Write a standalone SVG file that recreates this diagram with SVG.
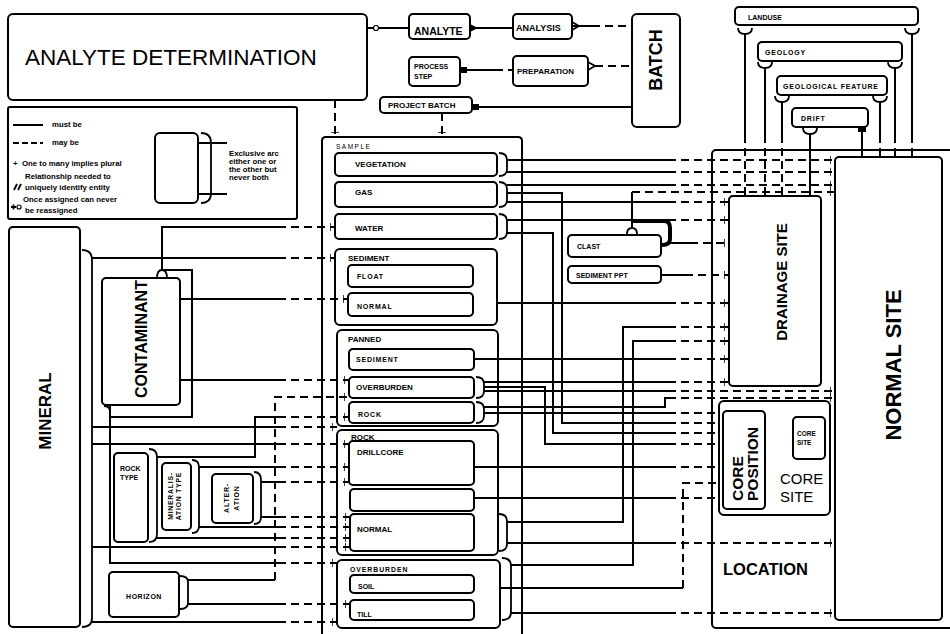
<svg xmlns="http://www.w3.org/2000/svg" width="950" height="634" viewBox="0 0 950 634">
<defs>
<style>
.bx{fill:#fff;stroke:#000;stroke-width:2}
.ct{fill:none;stroke:#000;stroke-width:2}
.cw{fill:#fff;stroke:#000;stroke-width:2}
.s{fill:none;stroke:#000;stroke-width:2}
.d{fill:none;stroke:#000;stroke-width:2;stroke-dasharray:8 5}
.a{fill:none;stroke:#000;stroke-width:1.8}
.th{fill:none;stroke:#000;stroke-width:4}
text{font-family:"Liberation Sans",Arial,Helvetica,sans-serif;fill:#000}
.l{font-size:8px;font-weight:bold}
.sm{font-size:7px;font-weight:bold}
.lg{font-size:7.8px;font-weight:bold}
</style>
<marker id="tk" markerWidth="8" markerHeight="10" refX="5" refY="5" orient="auto" markerUnits="userSpaceOnUse"><path d="M0,1V9" stroke="#000" stroke-width="1.5"/></marker>
</defs>
<rect width="950" height="634" fill="#fff"/>

<!-- containers -->
<g id="sample">
<path class="ct" d="M322,634 V141 Q322,137 326,137 H518 Q522,137 522,141 V634"/>
<text x="336" y="149" style="font-size:6.5px;letter-spacing:1.5px">SAMPLE</text>
</g>
<g id="location">
<rect class="ct" x="712" y="150" width="250" height="478" rx="4"/>
<text x="723" y="575" style="font-size:16.5px;font-weight:bold">LOCATION</text>
</g>
<g id="sediment-group">
<rect class="cw" x="335" y="249" width="162" height="76" rx="5"/>
<text class="l" x="348" y="261">SEDIMENT</text>
</g>
<g id="panned-group">
<rect class="cw" x="337" y="330" width="161" height="96" rx="5"/>
<text class="l" x="348" y="342">PANNED</text>
</g>
<g id="rock-group">
<rect class="cw" x="337" y="430" width="161" height="125" rx="5"/>
<text class="l" x="351" y="440">ROCK</text>
</g>
<g id="overburden-group">
<rect class="cw" x="337" y="560" width="163" height="68" rx="5"/>
<text x="350" y="572" style="font-size:6.8px;font-weight:bold;letter-spacing:1px">OVERBURDEN</text>
</g>

<!-- connectors -->
<g id="connectors">
<!-- top -->
<path class="s" d="M367,28 H409"/>
<circle cx="376" cy="28" r="2.5" fill="#fff" stroke="#000" stroke-width="1.2"/>
<path class="s" d="M470,28 H513"/>
<path d="M470,24 L478,28 L470,32 Z" fill="#000"/>
<path class="s" d="M572,26 H592"/>
<path class="a" d="M572,22 L579,26 L572,30"/>
<path class="d" d="M592,26 H632"/>
<path class="s" d="M460,70 H495"/>
<rect x="461" y="67" width="6" height="6" fill="#000"/>
<path class="d" d="M495,70 H513"/>
<path class="a" d="M588,62 L595,66 L588,70"/>
<path class="d" d="M595,66 H632"/>
<path class="s" d="M472,107 H632"/>
<rect x="473" y="104" width="6" height="6" fill="#000"/>
<path class="d" d="M442,113 V137" marker-end="url(#tk)"/>
<path class="d" d="M335,100 V137" marker-end="url(#tk)"/>

<!-- landuse hierarchy -->
<path class="a" d="M738,28 Q738,34 745,34 Q752,34 752,28"/>
<path class="a" d="M905,28 Q905,34 912,34 Q919,34 919,28"/>
<path class="a" d="M758,62 Q758,68 765,68 Q772,68 772,62"/>
<path class="a" d="M888,62 Q888,68 895,68 Q902,68 902,62"/>
<path class="a" d="M775,96 Q775,102 782,102 Q789,102 789,96"/>
<path class="a" d="M873,96 Q873,102 880,102 Q887,102 887,96"/>
<path class="a" d="M803,128 Q803,134 810,134 Q817,134 817,128"/>
<path class="s" d="M745,34 V135"/><path class="d" d="M745,135 V196"/>
<path class="s" d="M912,34 V135"/><path class="d" d="M912,135 V157"/>
<path class="s" d="M765,68 V135"/><path class="d" d="M765,135 V196"/>
<path class="s" d="M895,68 V135"/><path class="d" d="M895,135 V157"/>
<path class="s" d="M782,102 V135"/><path class="d" d="M782,135 V196"/>
<path class="s" d="M880,102 V135"/><path class="d" d="M880,135 V157"/>
<path class="s" d="M810,134 V196"/>
<path class="s" d="M862,127 V157"/>
<rect x="858" y="127" width="8" height="5" fill="#000"/>

<!-- sample braces -->
<path class="a" d="M499,153 Q507,153 507,160 V169 Q507,176 499,176"/>
<path class="a" d="M499,182 Q507,182 507,189 V200 Q507,207 499,207"/>
<path class="a" d="M499,214 Q507,214 507,221 V232 Q507,239 499,239"/>
<path class="a" d="M476,377 Q484,377 484,384 V391 Q484,398 476,398"/>
<path class="a" d="M476,402 Q484,402 484,409 V416 Q484,423 476,423"/>
<path class="a" d="M499,514 Q507,514 507,521 V544 Q507,551 499,551"/>
<path class="a" d="M502,558 Q511,558 511,566 V612 Q511,620 502,620"/>

<!-- sample to the right -->
<path class="s" d="M507,160 H668"/><path class="d" d="M668,160 H835" marker-end="url(#tk)"/>
<path class="s" d="M507,172 H668"/><path class="d" d="M668,172 H835" marker-end="url(#tk)"/>
<path class="s" d="M507,185 H668"/><path class="d" d="M668,185 H835" marker-end="url(#tk)"/>
<path class="s" d="M507,193 H562 V423 H668"/><path class="d" d="M668,423 H723" marker-end="url(#tk)"/>
<path class="s" d="M507,202 H668"/><path class="d" d="M668,202 H729" marker-end="url(#tk)"/>
<path class="s" d="M507,220 H668"/><path class="d" d="M668,220 H729" marker-end="url(#tk)"/>
<path class="s" d="M507,233 H553 V433 H668"/><path class="d" d="M668,433 H723" marker-end="url(#tk)"/>
<path class="th" d="M632,221 H664 Q670,221 670,228 V239 Q670,245 662,245"/>
<path class="a" d="M627,234 Q627,228 632,228 Q637,228 637,234"/>
<path class="s" d="M632,228 V192"/><path class="d" d="M632,192 H835" marker-end="url(#tk)"/>
<path class="s" d="M670,243 H690"/><path class="d" d="M690,243 H729" marker-end="url(#tk)"/>
<path class="s" d="M661,275 H685"/><path class="d" d="M685,275 H729" marker-end="url(#tk)"/>
<path class="s" d="M497,303 H668"/><path class="d" d="M668,303 H729" marker-end="url(#tk)"/>
<path class="s" d="M507,522 H623 V327 H668"/><path class="d" d="M668,327 H729" marker-end="url(#tk)"/>
<path class="s" d="M511,565 H633 V341 H668"/><path class="d" d="M668,341 H729" marker-end="url(#tk)"/>
<path class="s" d="M474,359 H668"/><path class="d" d="M668,359 H729" marker-end="url(#tk)"/>
<path class="s" d="M484,382 H668"/><path class="d" d="M668,382 H729" marker-end="url(#tk)"/>
<path class="s" d="M484,387 H545 V444 H668"/><path class="d" d="M668,444 H723" marker-end="url(#tk)"/>
<path class="s" d="M484,391 H668"/><path class="d" d="M668,391 H835" marker-end="url(#tk)"/>
<path class="s" d="M484,407 H665 V398 H668"/><path class="d" d="M668,398 H835" marker-end="url(#tk)"/>
<path class="s" d="M484,413 H668"/><path class="d" d="M668,413 H723" marker-end="url(#tk)"/>
<path class="s" d="M474,467 H668"/><path class="d" d="M668,467 H723" marker-end="url(#tk)"/>
<path class="s" d="M474,498 H668"/><path class="d" d="M668,498 H723" marker-end="url(#tk)"/>
<path class="s" d="M507,543 H668"/><path class="d" d="M668,543 H835" marker-end="url(#tk)"/>
<path class="s" d="M500,588 H683"/><path class="d" d="M683,588 V483 H723" marker-end="url(#tk)"/>
<path class="s" d="M511,613 H668"/><path class="d" d="M668,613 H835" marker-end="url(#tk)"/>

<!-- left braces -->
<path class="a" d="M82,250 Q92,250 92,260 V618 Q92,627 82,627"/>
<path class="a" d="M157,278 Q157,270 162,270 Q167,270 167,278"/>
<path class="a" d="M104,406 Q110,406 110,412"/>
<path class="a" d="M149,449 Q157,449 157,457 V534 Q157,542 149,542"/>
<path class="a" d="M192,460 Q199,460 199,467 V526 Q199,533 192,533"/>
<path class="a" d="M254,472 Q261,472 261,480 V517 Q261,524 254,524"/>
<path class="a" d="M180,576 Q188,576 188,582 V603 Q188,609 180,609"/>

<!-- left to sample -->
<path class="s" d="M162,270 V227 H278"/><path class="d" d="M278,227 H335" marker-end="url(#tk)"/>
<path class="s" d="M92,258 H278"/><path class="d" d="M278,258 H335" marker-end="url(#tk)"/>
<path class="s" d="M180,299 H278"/><path class="d" d="M278,299 H348" marker-end="url(#tk)"/>
<path class="s" d="M180,380 H278"/><path class="d" d="M278,380 H349" marker-end="url(#tk)"/>
<path class="s" d="M188,580 H275"/><path class="d" d="M275,580 V397 H349" marker-end="url(#tk)"/>
<path class="s" d="M162,270 H192 V417 H110"/>
<path class="s" d="M110,406 V563 H278"/><path class="d" d="M278,563 H337" marker-end="url(#tk)"/>
<path class="s" d="M157,457 H255 V417 H278"/><path class="d" d="M278,417 H349" marker-end="url(#tk)"/>
<path class="s" d="M92,427 H278"/><path class="d" d="M278,427 H337" marker-end="url(#tk)"/>
<path class="s" d="M92,444 H278"/><path class="d" d="M278,444 H349" marker-end="url(#tk)"/>
<path class="s" d="M199,467 H278"/><path class="d" d="M278,467 H349" marker-end="url(#tk)"/>
<path class="s" d="M261,482 H278"/><path class="d" d="M278,482 H349" marker-end="url(#tk)"/>
<path class="s" d="M261,517 H278"/><path class="d" d="M278,517 H350" marker-end="url(#tk)"/>
<path class="s" d="M199,527 H278"/><path class="d" d="M278,527 H350" marker-end="url(#tk)"/>
<path class="s" d="M157,538 H278"/><path class="d" d="M278,538 H350" marker-end="url(#tk)"/>
<path class="s" d="M92,547 H278"/><path class="d" d="M278,547 H350" marker-end="url(#tk)"/>
<path class="s" d="M188,604 H278"/><path class="d" d="M278,604 H350" marker-end="url(#tk)"/>
<path class="s" d="M92,622 H278"/><path class="d" d="M278,622 H337" marker-end="url(#tk)"/>

<!-- core position to core site -->
<path class="s" d="M765,446 H793"/>
<circle cx="773" cy="446" r="2" fill="#fff" stroke="#000" stroke-width="1.2"/>
</g>

<!-- nodes -->
<g id="analyte-determination">
<rect class="bx" x="8" y="14" width="359" height="86" rx="5"/>
<text x="25" y="65" style="font-size:22.5px">ANALYTE DETERMINATION</text>
</g>
<g id="legend">
<rect class="bx" x="8" y="107" width="289" height="112" rx="2"/>
<path class="s" d="M13,125 H43"/><text class="lg" x="52" y="127">must be</text>
<path class="s" d="M13,143 H43" stroke-dasharray="6 3"/><text class="lg" x="52" y="145">may be</text>
<text class="lg" x="13" y="166">+</text><text class="lg" x="22" y="166">One to many implies plural</text>
<text class="lg" x="25" y="179">Relationship needed to</text>
<path class="a" d="M14,190 L17,184 M18,190 L21,184" stroke-width="1.2"/>
<text class="lg" x="25" y="190">uniquely identify entity</text>
<text class="lg" x="23" y="202">Once assigned can never</text>
<path class="a" d="M11,207 H16 M13.5,204.5 V209.5" stroke-width="1.2"/>
<circle cx="19" cy="207" r="2" fill="none" stroke="#000" stroke-width="1.2"/>
<text class="lg" x="25" y="213">be reassigned</text>
<rect class="bx" x="155" y="133" width="43" height="70" rx="5"/>
<path class="a" d="M201,133 Q211,133 211,143 V193 Q211,203 201,203"/>
<path class="s" d="M198,143 H227 M198,194 H227"/>
<text class="lg" x="229" y="156">Exclusive arc</text>
<text class="lg" x="229" y="164">either one or</text>
<text class="lg" x="229" y="172">the other but</text>
<text class="lg" x="229" y="180">never both</text>
</g>
<g id="analyte">
<rect class="bx" x="409" y="14" width="61" height="25" rx="4"/>
<text x="414" y="35" style="font-size:10.5px;font-weight:bold">ANALYTE</text>
</g>
<g id="analysis">
<rect class="bx" x="513" y="14" width="59" height="25" rx="4"/>
<text x="516" y="31" style="font-size:9px;font-weight:bold">ANALYSIS</text>
</g>
<g id="process-step">
<rect class="bx" x="409" y="57" width="51" height="29" rx="4"/>
<text class="sm" x="414" y="69">PROCESS</text>
<text class="sm" x="414" y="79">STEP</text>
</g>
<g id="preparation">
<rect class="bx" x="513" y="56" width="75" height="30" rx="4"/>
<text class="l" x="517" y="74">PREPARATION</text>
</g>
<g id="project-batch">
<rect class="bx" x="380" y="97" width="92" height="16" rx="4"/>
<text class="l" x="388" y="108">PROJECT BATCH</text>
</g>
<g id="batch">
<rect class="bx" x="632" y="14" width="48" height="113" rx="5"/>
<text x="656" y="60" transform="rotate(-90 656 60)" text-anchor="middle" dominant-baseline="central" style="font-size:18px;font-weight:bold">BATCH</text>
</g>
<g id="landuse">
<rect class="bx" x="735" y="7" width="183" height="18" rx="4"/>
<text class="sm" x="748" y="20">LANDUSE</text>
</g>
<g id="geology">
<rect class="bx" x="758" y="42" width="144" height="19" rx="4"/>
<text class="sm" x="765" y="55" style="letter-spacing:0.8px">GEOLOGY</text>
</g>
<g id="geological-feature">
<rect class="bx" x="777" y="76" width="110" height="19" rx="4"/>
<text class="sm" x="783" y="89" style="letter-spacing:0.8px">GEOLOGICAL FEATURE</text>
</g>
<g id="drift">
<rect class="bx" x="792" y="108" width="76" height="19" rx="4"/>
<text class="sm" x="801" y="121" style="letter-spacing:0.8px">DRIFT</text>
</g>
<g id="drainage-site">
<rect class="bx" x="729" y="196" width="92" height="190" rx="4"/>
<text x="781" y="282" transform="rotate(-90 781 282)" text-anchor="middle" dominant-baseline="central" style="font-size:15px;font-weight:bold">DRAINAGE SITE</text>
</g>
<g id="normal-site">
<rect class="bx" x="835" y="157" width="107" height="463" rx="4"/>
<text x="893" y="365" transform="rotate(-90 893 365)" text-anchor="middle" dominant-baseline="central" style="font-size:22px;font-weight:bold">NORMAL SITE</text>
</g>
<g id="core-site">
<rect class="bx" x="719" y="401" width="111" height="114" rx="5"/>
<text x="780" y="484" style="font-size:15px">CORE</text>
<text x="780" y="502" style="font-size:15px">SITE</text>
</g>
<g id="core-position">
<rect class="bx" x="723" y="411" width="42" height="98" rx="4"/>
<text transform="translate(743,501) rotate(-90)" style="font-size:15.5px;font-weight:bold"><tspan x="0" y="0">CORE</tspan><tspan x="0" y="15">POSITION</tspan></text>
</g>
<g id="core-site-small">
<rect class="bx" x="793" y="417" width="32" height="42" rx="4"/>
<text x="797" y="436" style="font-size:6.5px;font-weight:bold">CORE</text>
<text x="797" y="445" style="font-size:6.5px;font-weight:bold">SITE</text>
</g>
<g id="clast">
<rect class="bx" x="568" y="235" width="93" height="22" rx="4"/>
<text class="sm" x="577" y="249">CLAST</text>
</g>
<g id="sediment-ppt">
<rect class="bx" x="568" y="266" width="93" height="17" rx="4"/>
<text class="sm" x="576" y="278">SEDIMENT PPT</text>
</g>
<g id="mineral">
<rect class="bx" x="9" y="227" width="71" height="400" rx="4"/>
<text x="45" y="411" transform="rotate(-90 45 411)" text-anchor="middle" dominant-baseline="central" style="font-size:17px;font-weight:bold">MINERAL</text>
</g>
<g id="contaminant">
<rect class="bx" x="102" y="278" width="78" height="127" rx="4"/>
<text x="141" y="339" transform="rotate(-90 141 339)" text-anchor="middle" dominant-baseline="central" style="font-size:16px;font-weight:bold">CONTAMINANT</text>
</g>
<g id="rock-type">
<rect class="bx" x="114" y="453" width="34" height="89" rx="4"/>
<text class="sm" x="120" y="471">ROCK</text>
<text class="sm" x="120" y="480">TYPE</text>
</g>
<g id="mineralisation-type">
<rect class="bx" x="162" y="463" width="29" height="67" rx="4"/>
<text transform="translate(173,496) rotate(-90)" text-anchor="middle" style="font-size:6.8px;font-weight:bold;letter-spacing:0.8px"><tspan x="0" y="0">MINERALIS-</tspan><tspan x="0" y="8">ATION TYPE</tspan></text>
</g>
<g id="alteration">
<rect class="bx" x="212" y="474" width="41" height="49" rx="4"/>
<text transform="translate(229,498) rotate(-90)" text-anchor="middle" style="font-size:7px;font-weight:bold;letter-spacing:0.8px"><tspan x="0" y="0">ALTER-</tspan><tspan x="0" y="10">ATION</tspan></text>
</g>
<g id="horizon">
<rect class="bx" x="109" y="572" width="70" height="45" rx="4"/>
<text class="sm" x="144" y="599" text-anchor="middle" style="letter-spacing:0.5px">HORIZON</text>
</g>
<g id="vegetation">
<rect class="bx" x="335" y="153" width="162" height="23" rx="4"/>
<text class="l" x="355" y="167">VEGETATION</text>
</g>
<g id="gas">
<rect class="bx" x="335" y="182" width="162" height="25" rx="4"/>
<text class="l" x="355" y="195">GAS</text>
</g>
<g id="water">
<rect class="bx" x="335" y="214" width="162" height="25" rx="4"/>
<text class="l" x="355" y="231">WATER</text>
</g>
<g id="float">
<rect class="bx" x="348" y="265" width="125" height="22" rx="4"/>
<text class="sm" x="357" y="279" style="letter-spacing:0.8px">FLOAT</text>
</g>
<g id="sediment-normal">
<rect class="bx" x="348" y="293" width="125" height="23" rx="4"/>
<text class="sm" x="357" y="309" style="letter-spacing:0.8px">NORMAL</text>
</g>
<g id="panned-sediment">
<rect class="bx" x="349" y="349" width="125" height="21" rx="4"/>
<text class="sm" x="356" y="362" style="letter-spacing:0.8px">SEDIMENT</text>
</g>
<g id="panned-overburden">
<rect class="bx" x="349" y="377" width="125" height="21" rx="4"/>
<text class="l" x="356" y="390">OVERBURDEN</text>
</g>
<g id="panned-rock">
<rect class="bx" x="349" y="402" width="125" height="21" rx="4"/>
<text class="sm" x="358" y="417" style="letter-spacing:0.8px">ROCK</text>
</g>
<g id="drillcore">
<rect class="bx" x="349" y="441" width="125" height="44" rx="4"/>
<text class="l" x="357" y="455">DRILLCORE</text>
</g>
<g id="rock-blank">
<rect class="bx" x="350" y="489" width="124" height="22" rx="4"/>
</g>
<g id="rock-normal">
<rect class="bx" x="350" y="514" width="124" height="37" rx="4"/>
<text class="l" x="357" y="532">NORMAL</text>
</g>
<g id="soil">
<rect class="bx" x="350" y="575" width="124" height="18" rx="4"/>
<text class="sm" x="358" y="589">SOIL</text>
</g>
<g id="till">
<rect class="bx" x="350" y="600" width="124" height="20" rx="4"/>
<text class="sm" x="357" y="617">TILL</text>
</g>
</svg>
